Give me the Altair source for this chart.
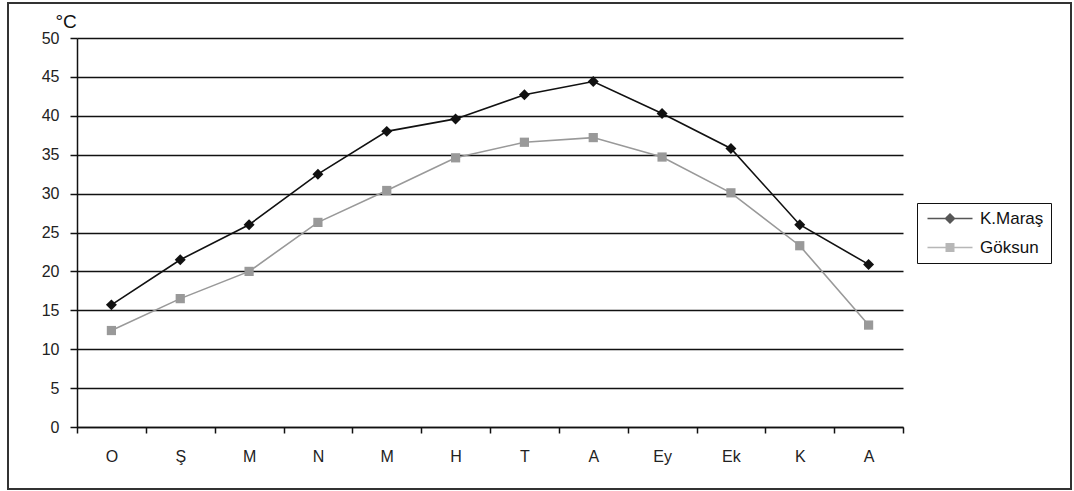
import altair as alt
import pandas as pd

months = ["O", "Ş", "M", "N", "M", "H", "T", "A", "Ey", "Ek", "K", "A"]
kmaras = [15.7, 21.5, 26.0, 32.5, 38.0, 39.6, 42.7, 44.4, 40.3, 35.8, 26.0, 20.9]
goksun = [12.4, 16.5, 20.0, 26.3, 30.4, 34.6, 36.6, 37.2, 34.7, 30.1, 23.3, 13.1]
series_names = ["K.Maraş", "Göksun"]
series_colors = ["#111111", "#999999"]

rows = []
for i in range(len(months)):
    rows.append({"i": i, "series": series_names[0], "v": kmaras[i]})
    rows.append({"i": i, "series": series_names[1], "v": goksun[i]})
df = pd.DataFrame(rows)

label_expr = "[" + ",".join("'" + m + "'" for m in months) + "][datum.value]"

FONT = "Liberation Sans"

x_enc = alt.X("i:O", title=None,
              scale=alt.Scale(paddingInner=0, paddingOuter=0),
              axis=alt.Axis(labelExpr=label_expr, labelAngle=0, tickBand="extent",
                            domainColor="#111111", domainWidth=1.5, tickColor="#111111",
                            tickWidth=1.5, tickSize=6, labelPadding=15, labelFontSize=16,
                            labelColor="#222222", labelFont=FONT, grid=False))
y_enc = alt.Y("v:Q", scale=alt.Scale(domain=[0, 50], nice=False),
              axis=alt.Axis(values=list(range(0, 51, 5)), title="°C", titleAngle=0,
                            titleAlign="left", titleBaseline="alphabetic", titleX=-22, titleY=-11,
                            titleFontSize=19, titleFontWeight="normal", titleFont=FONT,
                            titleColor="#111111", labelOverlap=False,
                            grid=True, gridColor="#111111", gridWidth=1.5,
                            domainColor="#111111", domainWidth=1.5, tickColor="#111111",
                            tickWidth=1.5, tickSize=7, labelPadding=11, labelFontSize=16,
                            labelColor="#222222", labelFont=FONT))

base = alt.Chart(df)

layers = []
for name, col, shp, sz in [(series_names[0], series_colors[0], "diamond", 120),
                            (series_names[1], series_colors[1], "square", 85)]:
    sub = base.transform_filter(alt.datum.series == name)
    layers.append(sub.mark_line(strokeWidth=1.6, color=col).encode(x=x_enc, y=y_enc))
    layers.append(sub.mark_point(shape=shp, filled=True, size=sz, opacity=1, color=col)
                  .encode(x=x_enc, y=y_enc))

# legend symbols: a horizontal line with the marker in the middle
sym_k = "M-4.5,0L4.5,0M0,-0.9L0.9,0L0,0.9L-0.9,0Z"
sym_g = "M-4.5,0L4.5,0M-0.75,-0.75L0.75,-0.75L0.75,0.75L-0.75,0.75Z"

color_scale = alt.Scale(domain=series_names, range=series_colors)
legend = alt.Legend(title=None, orient="none", legendX=840, legendY=165,
                    strokeColor="#111111", fillColor="white", padding=7,
                    symbolSize=100, symbolStrokeWidth=1.5, symbolOffset=17.5,
                    labelFontSize=17, labelFont=FONT, labelColor="#111111",
                    rowPadding=11, labelOffset=21.5)

legend_layer = base.transform_filter("datum.i < 0").mark_point(filled=True).encode(
    x=x_enc, y=y_enc,
    color=alt.Color("series:N", scale=color_scale, legend=legend),
    stroke=alt.Stroke("series:N", scale=color_scale, legend=legend),
    shape=alt.Shape("series:N", scale=alt.Scale(domain=series_names, range=[sym_k, sym_g]),
                    legend=legend),
)
layers.append(legend_layer)

frame = alt.Chart(pd.DataFrame({"a": [0]})).mark_rect(
    fill=None, stroke="#333333", strokeWidth=2
).encode(x=alt.value(-69), x2=alt.value(994), y=alt.value(-35), y2=alt.value(451))
layers.append(frame)

chart = alt.layer(*layers).properties(
    width=826, height=389,
    autosize=alt.AutoSizeParams(type="none"),
    padding={"left": 77, "top": 38, "right": 171, "bottom": 64},
    background="white",
).configure_view(stroke=None)

chart.save("out.html", embed_options={"renderer": "svg", "actions": False})
